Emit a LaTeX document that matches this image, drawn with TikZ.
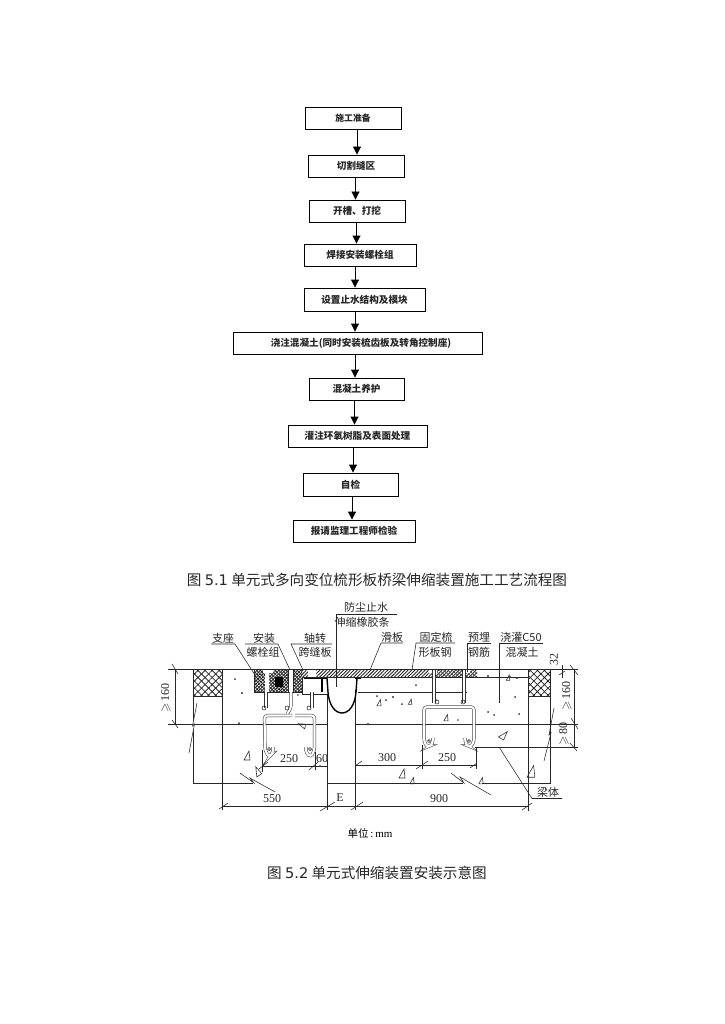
\documentclass[tikz,border=0pt]{standalone}
\usepackage{amsmath, amssymb}
\usepackage{fontspec}
\usepackage{tikz}
\usetikzlibrary{arrows.meta, patterns.meta}
\setmainfont{Liberation Serif}
\newfontfamily\cjk{Noto Sans CJK SC}
\newfontfamily\capfont{DejaVu Sans}

\begin{document}
\begin{tikzpicture}[x=1pt, y=-1pt,
    flowbox/.style={draw, line width=0.9pt, inner sep=0pt, font=\cjk\bfseries\fontsize{9.6}{11}\selectfont, text=black!85},
    flowarrow/.style={line width=0.9pt, -{Triangle[length=8pt, width=8pt]}},
    caption/.style={inner sep=0pt, font=\cjk\fontsize{14.6}{17}\selectfont, text=black!85},
    tag/.style={inner sep=0pt, font=\cjk\fontsize{11}{13}\selectfont, text=black!85},
    dimtext/.style={inner sep=0pt, font=\fontsize{12}{14}\selectfont, text=black!85},
    line/.style={line width=0.55pt, black!85},
    bar/.style={line width=0.5pt, black!80, double=white, double distance=2.2pt, rounded corners=3pt},
    aggregate/.pic={\draw[line width=0.6pt, black!80] (-3,4) -- (3,4) -- (2,-5) -- cycle;},
    grain/.style={fill=black!80},
]
\useasboundingbox (0,0) rectangle (724,1024);

% Flow chart
\node[flowbox, minimum width=96pt, minimum height=22pt] (prepare) at (353,118) {\fontsize{8.8}{11}\selectfont 施工准备};
\node[flowbox, minimum width=96pt, minimum height=22pt] (cutting) at (356,166) {切割缝区};
\node[flowbox, minimum width=96pt, minimum height=22pt] (groove) at (357,211) {开槽、打挖};
\node[flowbox, minimum width=112pt, minimum height=22pt] (weld) at (360,255) {焊接安装螺栓组};
\node[flowbox, minimum width=121pt, minimum height=23pt] (seal) at (364.5,299.5) {设置止水结构及模块};
\node[flowbox, minimum width=249pt, minimum height=22pt] (pour) at (357.5,343) {\hspace*{7pt}浇注混凝土(同时安装梳齿板及转角控制座)};
\node[flowbox, minimum width=95pt, minimum height=22pt] (cure) at (356.5,389) {混凝土养护};
\node[flowbox, minimum width=139pt, minimum height=22pt] (resin) at (357.5,436) {灌注环氧树脂及表面处理};
\node[flowbox, minimum width=95pt, minimum height=23pt] (check) at (350.5,484.5) {自检};
\node[flowbox, minimum width=122pt, minimum height=22pt] (report) at (354,531) {报请监理工程师检验};

\draw[flowarrow] ([xshift=4pt]prepare.south) -- ([xshift=1pt]cutting.north);
\draw[flowarrow] ([xshift=-0.5pt]cutting.south) -- ([xshift=-1.5pt]groove.north);
\draw[flowarrow] ([xshift=-0.5pt]groove.south) -- ([xshift=-3.5pt]weld.north);
\draw[flowarrow] ([xshift=-5pt]weld.south) -- ([xshift=-9.5pt]seal.north);
\draw[flowarrow] ([xshift=-9.5pt]seal.south) -- ([xshift=-2.5pt]pour.north);
\draw[flowarrow] ([xshift=-2.5pt]pour.south) -- ([xshift=-1.5pt]cure.north);
\draw[flowarrow] ([xshift=-2pt]cure.south) -- ([xshift=-3pt]resin.north);
\draw[flowarrow] ([xshift=-4.5pt]resin.south) -- ([xshift=2.5pt]check.north);
\draw[flowarrow] ([xshift=1.5pt]check.south) -- ([xshift=-2pt]report.north);

% Captions
\node[caption] (capflow) at (377,580) {图 {\capfont 5.1} 单元式多向变位梳形板桥梁伸缩装置施工工艺流程图};
\node[caption] (capjoint) at (377,873) {图 {\capfont 5.2} 单元式伸缩装置安装示意图};

% Steel block and cover plate
\fill[pattern={Lines[angle=45, distance=2.2pt, line width=0.9pt]}, pattern color=black!85] (254,669) rectangle (302,692);
\fill[pattern={Lines[angle=-45, distance=2.6pt, line width=0.8pt]}, pattern color=black!85] (254,669) rectangle (302,692);
\fill[pattern={Lines[angle=45, distance=2.4pt, line width=0.9pt]}, pattern color=black!85] (302,669) rectangle (477,677);
\fill[pattern={Lines[angle=-45, distance=3pt, line width=0.6pt]}, pattern color=black!70] (432,669) rectangle (477,677);
\fill[black] (275,677) rectangle (283,687);
\fill[white] (263,669) rectangle (273,673) (288,669) rectangle (293,692) (308,669) rectangle (316,677) (265,673) rectangle (269,692) (310,677) rectangle (314,692) (429,669) rectangle (437,673) (462,669) rectangle (470,673);
\draw[line] (254,692) -- (302,692) -- (302,694) -- (327,694);
\draw[line] (254,669) -- (254,692) (302,677) -- (302,692) (288,669) -- (288,692) (293,669) -- (293,692);
\draw[line width=1.6pt] (304,678) -- (327,678) (355,678) -- (361,678) (322,678) -- (322,692);

% Concrete outlines
\draw[line] (168,669) -- (578,669);
\draw[line] (302,677.5) -- (528,677.5);
\draw[line] (358,692) -- (467,692);
\draw[line] (168,724) -- (327,724) (355,724) -- (578,724);
\draw[line] (475,747) -- (578,747);
\draw[line] (222,669) -- (222,810) (528,669) -- (528,811);
\draw[line] (193,696) -- (193,783) -- (253,783) (463,783) -- (327,783) (482,783) -- (550,783) -- (550,696);
\draw[line] (327,694) -- (327,810) (355,690) -- (355,810);

% Cross hatching at both ends
\fill[pattern={Lines[angle=45, distance=5pt, line width=0.8pt]}, pattern color=black!85] (193,669) rectangle (222,696);
\fill[pattern={Lines[angle=-45, distance=5pt, line width=0.8pt]}, pattern color=black!85] (193,669) rectangle (222,696);
\draw[line] (193,669) rectangle (222,696);
\fill[pattern={Lines[angle=45, distance=5pt, line width=0.8pt]}, pattern color=black!85] (528,669) rectangle (550,696);
\fill[pattern={Lines[angle=-45, distance=5pt, line width=0.8pt]}, pattern color=black!85] (528,669) rectangle (550,696);
\draw[line] (528,669) rectangle (550,696);

% Break lines
\draw[line, fill=white] (197,703) -- (192.5,726) -- (194.5,724) -- (189,753);
\draw[line] (554,708) -- (549,735) -- (551,733) -- (544,761);
\draw[line] (240,773) -- (254,783) -- (250,778) -- (275,792);
\draw[line] (451,773) -- (464,783) -- (460,777) -- (491,795);

% Rubber seal
\fill[white] (328,678) rectangle (355,712);
\draw[line width=1.4pt] (327,678) -- (328,692) .. controls (330,720) and (354,720) .. (356,692) -- (357,678);

% Rebars
\draw[bar] (266,692) -- (266,708);
\draw[bar] (291,692) -- (291,708) -- (287,714);
\draw[bar] (312,692) -- (312,708);
\draw[bar] (273,747) -- (273,753) -- (269,757) -- (265,750) -- (264.5,715.5) -- (292,715.5);
\draw[bar] (295,715.5) -- (314.5,715.5) -- (314.5,750) -- (311,757) -- (306,753) -- (306,747);
\draw[bar] (434,670) -- (434,703);
\draw[bar] (464,670) -- (464,703);
\draw[bar] (433,738) -- (432,745) -- (427,747) -- (424,741) -- (424,707) -- (474,707) -- (474,741) -- (471,747) -- (466,745) -- (465,738);
\draw[line] (264,708) circle (2pt) (287,708) circle (2pt) (309,708) circle (2pt) (437,702) circle (2pt) (463,702) circle (2pt);
\draw[line] (269,749) circle (1.6pt) (310,749) circle (1.6pt) (429,741) circle (1.4pt) (469,741) circle (1.4pt);

% Top labels and leaders
\node[tag] (support) at (223,638) {支座};
\node[tag] (mount) at (264,638) {安装};
\node[tag] (boltset) at (263,652) {螺栓组};
\node[tag] (pivot) at (315,638) {轴转};
\node[tag] (bridging) at (315,652) {跨缝板};
\node[tag] (dust) at (366,607) {防尘止水};
\node[tag] (rubber) at (362,622) {伸缩橡胶条};
\node[tag] (slide) at (392,637) {滑板};
\node[tag] (fixed) at (436,637) {固定梳};
\node[tag] (combsteel) at (435,652) {形板钢};
\node[tag] (embed) at (479,637) {预埋};
\node[tag] (embedbar) at (479,652) {钢筋};
\node[tag] (pourtag) at (521,637) {浇灌C50};
\node[tag] (concrete) at (522,652) {混凝土};
\node[tag] (beam) at (548,792) {梁体};

\draw[line] (211,644) -- (235,644) -- (255,675);
\draw[line] (245,644) -- (278,644) -- (290,670);
\draw[line] (332,644) -- (291,644) -- (303,670);
\draw[line] (397,614) -- (336,614) -- (336,687);
\draw[line] (403,643) -- (381,643) -- (370,670);
\draw[line] (455,643) -- (416,643) -- (412,670);
\draw[line] (491,643) -- (467,643) -- (467,672);
\draw[line] (543,643) -- (499,643) -- (499,703);
\draw[line] (499,747) -- (532,798.5) -- (562,798.5);

% Dimensions
\draw[line] (262,750) -- (262,772) (315,752) -- (315,770);
\draw[line] (262,766) -- (327,766);
\draw[line] (355,765) -- (476,765);
\draw[line] (422,745) -- (422,769) (476,747) -- (476,769);
\draw[line] (222,806.5) -- (528,806.5);
\draw[line] (175,669) -- (175,724);
\draw[line] (574,669) -- (574,747);
\draw[line] (562,665) -- (562,678);
\draw[line] (219,809) -- (228,803) (320,811) -- (335,802) (351,810) -- (363,802) (522,810) -- (532,803);
\draw[line] (259,769) -- (268,762) (309,770) -- (318,762) (355,766) -- (362,761) (416,769) -- (428,761) (470,768) -- (477,763);
\draw[line] (172,664) -- (178,674) (172,720) -- (178,728) (570,665) -- (578,675) (571,718) -- (578,729) (570,743) -- (577,751) (559,675) -- (565,671);

\node[dimtext] (dimleft) at (289,759) {250};
\node[dimtext] (dimsixty) at (322,759) {60};
\node[dimtext] (dimthree) at (387,758) {300};
\node[dimtext] (dimright) at (447,758) {250};
\node[dimtext] (dimlong) at (272,799) {550};
\node[dimtext] (dimgap) at (340,798) {E};
\node[dimtext] (dimnine) at (439,799) {900};
\node[dimtext, rotate=90] (heightleft) at (166,698) {$\geqslant$\,160};
\node[dimtext, rotate=90] (heightright) at (567,696) {$\geqslant$\,160};
\node[dimtext, rotate=90] (heighteighty) at (564,734) {$\geqslant$\,80};
\node[dimtext, rotate=90] (heighttop) at (554,659) {32};
\node[inner sep=0pt, font=\fontsize{11}{13}\selectfont] (unit) at (370,833) {{\cjk\fontsize{10.5}{13}\selectfont 单位}\,:\,mm};

% Concrete aggregate
\pic at (247,756) {aggregate};
\pic[rotate=35] at (257,772) {aggregate};
\pic at (402,774) {aggregate};
\pic[rotate=-30] at (503,735) {aggregate};
\pic[scale=1.3] at (531,772) {aggregate};
\pic[scale=0.7] at (412,781) {aggregate};
\pic[scale=0.7] at (481,781) {aggregate};
\pic[scale=0.7] at (379,703) {aggregate};
\pic[scale=0.7] at (446,718) {aggregate};
\pic[scale=0.6] at (410,702) {aggregate};
\pic[scale=0.6] at (508,678) {aggregate};
\pic[scale=0.8, rotate=80] at (302,726) {aggregate};
\fill[grain] (235,679) circle (1pt) (242,693) circle (1.2pt) (239,723) circle (1pt) (320,766) circle (0.9pt)
    (377,696) circle (1pt) (386,700) circle (1pt) (393,697) circle (1.2pt) (402,704) circle (1pt)
    (416,685) circle (1pt) (436,700) circle (1pt) (488,676) circle (1.2pt) (510,677) circle (1.2pt)
    (517,678) circle (1.2pt) (515,697) circle (1pt) (488,712) circle (1pt) (494,715) circle (1pt)
    (519,714) circle (1pt) (368,724) circle (1.2pt) (298,695) circle (0.8pt) (458,720) circle (0.8pt);

\end{tikzpicture}
\end{document}
